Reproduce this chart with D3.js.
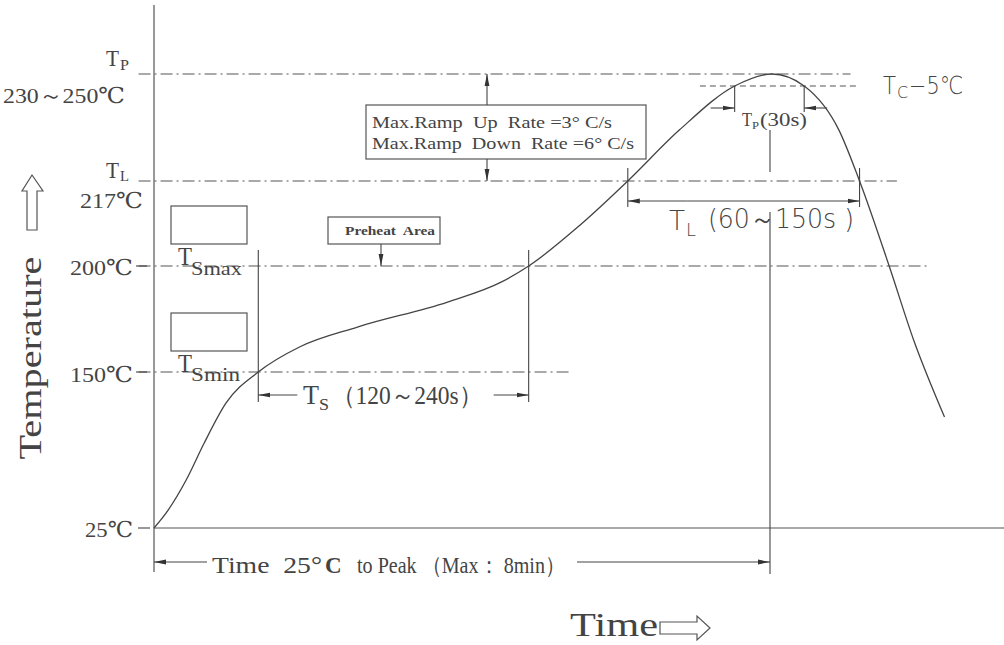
<!doctype html>
<html lang="en">
<head>
<meta charset="UTF-8">
<title>reflow-profile</title>
<style>
  body { margin: 0; background: #fff; }
  svg { display: block; }
  .axis { stroke: #555; stroke-width: 1.2; fill: none; }
  .ref { stroke: #555; stroke-width: 1.1; stroke-dasharray: 12 4 2 4; fill: none; }
  .ref-dash { stroke: #555; stroke-width: 1.1; stroke-dasharray: 6 4; fill: none; }
  .mark { stroke: #444; stroke-width: 1.1; fill: none; }
  .curve { stroke: #444; stroke-width: 1.3; fill: none; }
  .box { stroke: #555; stroke-width: 1.2; fill: #fff; }
  text { fill: #444; font-family: "Liberation Serif", "DejaVu Serif", serif; white-space: pre; }
  .cad { font-family: "DejaVu Sans", sans-serif; font-weight: 300; }
</style>
</head>
<body>
<svg width="1004" height="645"></svg>
<script src="https://d3js.org/d3.v7.min.js"></script>
<script>
  // reflow profile (time in s, temperature in °C)
  const timeSec = [0, 11, 25, 39, 56, 81, 113, 158, 228, 270, 291, 331, 368, 408, 451, 480, 505, 532, 548, 571, 590, 614]
  const tempC = [25, 39.4, 63.5, 93.1, 125.2, 150, 161.8, 171.2, 183, 192.5, 200, 208.2, 217, 232, 245, 250, 245, 232, 217, 200, 165.1, 113.9]

  // temperature levels on the left
  const levelTemps = [250, 217, 200, 150, 25]
  const levelLabels = ['230～250℃', '217℃', '200℃', '150℃', '25℃']
  const tcTemp = 245

  // time marks
  const soak = [81, 291]        // Ts 120~240s
  const liquidus = [368, 548]   // TL 60~150s
  const peakTime = 480
  const peakWindow = [451, 505] // Tp 30s

  const svg = d3.select('svg')

  // schematic scales (the drawing is not to scale on the temperature axis)
  const x = d3.scaleLinear().domain([0, 480]).range([154, 772])
  const y = d3.scaleLinear()
    .domain([25, 150, 200, 217, 245, 250])
    .range([528, 372, 266, 181, 86, 74])

  // arrow head marker
  svg.append('defs').append('marker')
    .attr('id', 'head')
    .attr('viewBox', '0 0 12 6')
    .attr('refX', 12).attr('refY', 3)
    .attr('markerWidth', 12).attr('markerHeight', 6)
    .attr('markerUnits', 'userSpaceOnUse')
    .attr('orient', 'auto')
    .append('path').attr('d', 'M0,0.6 L12,3 L0,5.4 Z').attr('fill', '#333')

  const g = svg.append('g')

  function line (cls, x1, y1, x2, y2, arrow) {
    const l = g.append('line').attr('class', cls)
      .attr('x1', x1).attr('y1', y1).attr('x2', x2).attr('y2', y2)
    if (arrow) l.attr('marker-end', 'url(#head)')
    return l
  }

  // axes
  line('axis', x(0), 5, x(0), 572)
  line('axis', x(0), y(25), 1004, y(25))

  // dash-dot reference lines
  const refEnds = {250: 541, 217: 577, 200: 601, 150: 323}
  levelTemps.filter(t => t !== 25).forEach(t => {
    line('ref', x(-12), y(t), x(refEnds[t]), y(t))
  })
  line('ref-dash', x(424), y(tcTemp), x(546), y(tcTemp))

  // profile curve
  const profile = d3.zip(timeSec, tempC)
  g.append('path').attr('class', 'curve')
    .attr('d', d3.line().x(d => x(d[0])).y(d => y(d[1])).curve(d3.curveMonotoneX)(profile))

  // ---- soak (Ts) ----
  soak.forEach(t => line('mark', x(t), y(200) - 16, x(t), y(150) + 30))
  line('mark', x(soak[0]) + 39, 395, x(soak[0]), 395, true)
  line('mark', x(soak[1]) - 35, 395, x(soak[1]), 395, true)

  // ---- liquidus (TL) ----
  liquidus.forEach(t => line('mark', x(t), y(217) - 13, x(t), y(217) + 26))
  line('mark', x(liquidus[0]) + 60, 201, x(liquidus[0]), 201, true)
  line('mark', x(liquidus[0]) + 60, 201, x(liquidus[1]), 201, true)

  // ---- peak (Tp) ----
  peakWindow.forEach(t => line('mark', x(t), y(tcTemp), x(t), 112))
  line('mark', x(peakWindow[0]) - 24, 108, x(peakWindow[0]), 108, true)
  line('mark', x(peakWindow[1]) + 23, 108, x(peakWindow[1]), 108, true)
  line('mark', x(peakTime) - 2, 130, x(peakTime) - 2, 172)
  line('mark', x(peakTime) - 2, 212, x(peakTime) - 2, 574)

  // time 25°C to peak
  line('mark', x(0) + 53, 562, x(0), 562, true)
  line('mark', 577, 562, x(peakTime) - 2, 562, true)

  // ramp rate box
  g.append('rect').attr('class', 'box').attr('x', 366).attr('y', 105).attr('width', 280).attr('height', 54)
  line('mark', 487, 105, 487, y(250), true)
  line('mark', 487, 159, 487, y(217), true)

  // preheat box
  g.append('rect').attr('class', 'box').attr('x', 328).attr('y', 217).attr('width', 112).attr('height', 27)
  line('mark', 381, 244, 381, y(200), true)

  // Tsmax / Tsmin boxes
  g.append('rect').attr('class', 'box').attr('x', 171).attr('y', 206).attr('width', 76).attr('height', 38)
  g.append('rect').attr('class', 'box').attr('x', 171).attr('y', 313).attr('width', 76).attr('height', 38)

  // ---- text ----
  function txt (xp, yp, s, size, len, cls) {
    const t = g.append('text').attr('x', xp).attr('y', yp).attr('font-size', size).text(s)
    if (len) t.attr('textLength', len).attr('lengthAdjust', 'spacingAndGlyphs')
    if (cls) t.attr('class', cls)
    return t
  }

  // level labels
  const labelPos = {250: [3, 103, 122], 217: [80, 208, 63], 200: [70, 275, 63], 150: [70, 382, 63], 25: [85, 537, 48]}
  levelTemps.forEach((t, i) => {
    const p = labelPos[t]
    txt(p[0], p[1], levelLabels[i], 22, p[2])
  })
  line('mark', 136, y(200), 147, y(200))
  line('mark', 136, y(150), 147, y(150))
  line('mark', 138, y(25), 150, y(25))

  txt(106, 66, 'T', 24, 13)
  txt(120, 70, 'P', 14, 9)
  txt(106, 178, 'T', 24, 13)
  txt(120, 181, 'L', 14, 9)

  txt(178, 265, 'T', 26, 14)
  txt(191, 275, 'Smax', 19, 51)
  txt(178, 372, 'T', 26, 14)
  txt(191, 381, 'Smin', 19, 49)

  g.append('text').attr('x', 345).attr('y', 235).attr('font-size', 13)
    .attr('font-weight', 'bold').attr('textLength', 90).attr('lengthAdjust', 'spacingAndGlyphs')
    .text('Preheat  Area')

  txt(372, 128, 'Max.Ramp  Up  Rate =3° C/s', 17, 240)
  txt(372, 149, 'Max.Ramp  Down  Rate =6° C/s', 17, 262)

  // Ts label
  txt(303, 404, 'T', 27, 16)
  txt(319, 410, 'S', 17, 10)
  txt(332, 404, '（120～240s）', 25, 150)

  // TL label
  txt(669, 230, 'T', 27, 16, 'cad')
  txt(686, 236, 'L', 17, 10, 'cad')
  txt(708, 228, '(60～150s )', 26, 146, 'cad')

  // Tp(30s)
  txt(742, 126, 'T', 18, 10)
  txt(752, 129, 'P', 11, 7)
  txt(760, 126, '(30s)', 19, 47)

  // Tc-5
  txt(883, 94, 'T', 25, 13, 'cad')
  txt(897, 98, 'C', 15, 11, 'cad')
  txt(909, 94, '−5℃', 25, 54, 'cad')

  // time to peak caption
  txt(212, 573, 'Time  25°', 23, 110)
  g.append('text').attr('x', 325).attr('y', 573).attr('font-size', 23)
    .attr('font-family', 'Liberation Sans, sans-serif').attr('font-weight', 'bold').text('C')
  txt(357, 573, 'to Peak （Max： 8min）', 23, 208)

  // axis titles
  txt(570, 636, 'Time', 33, 88)
  g.append('path').attr('class', 'axis').attr('stroke-width', 1.1)
    .attr('d', 'M660,622 L697,622 L697,616 L710,628 L697,640 L697,634 L660,634 Z')

  g.append('text').attr('transform', 'translate(41,358) rotate(-90)')
    .attr('text-anchor', 'middle').attr('font-size', 31)
    .attr('textLength', 203).attr('lengthAdjust', 'spacingAndGlyphs')
    .text('Temperature')
  g.append('path').attr('class', 'axis').attr('stroke-width', 1.1)
    .attr('d', 'M27,230 L27,191 L22,191 L32,175 L43,191 L37,191 L37,230 Z')
</script>
</body>
</html>
